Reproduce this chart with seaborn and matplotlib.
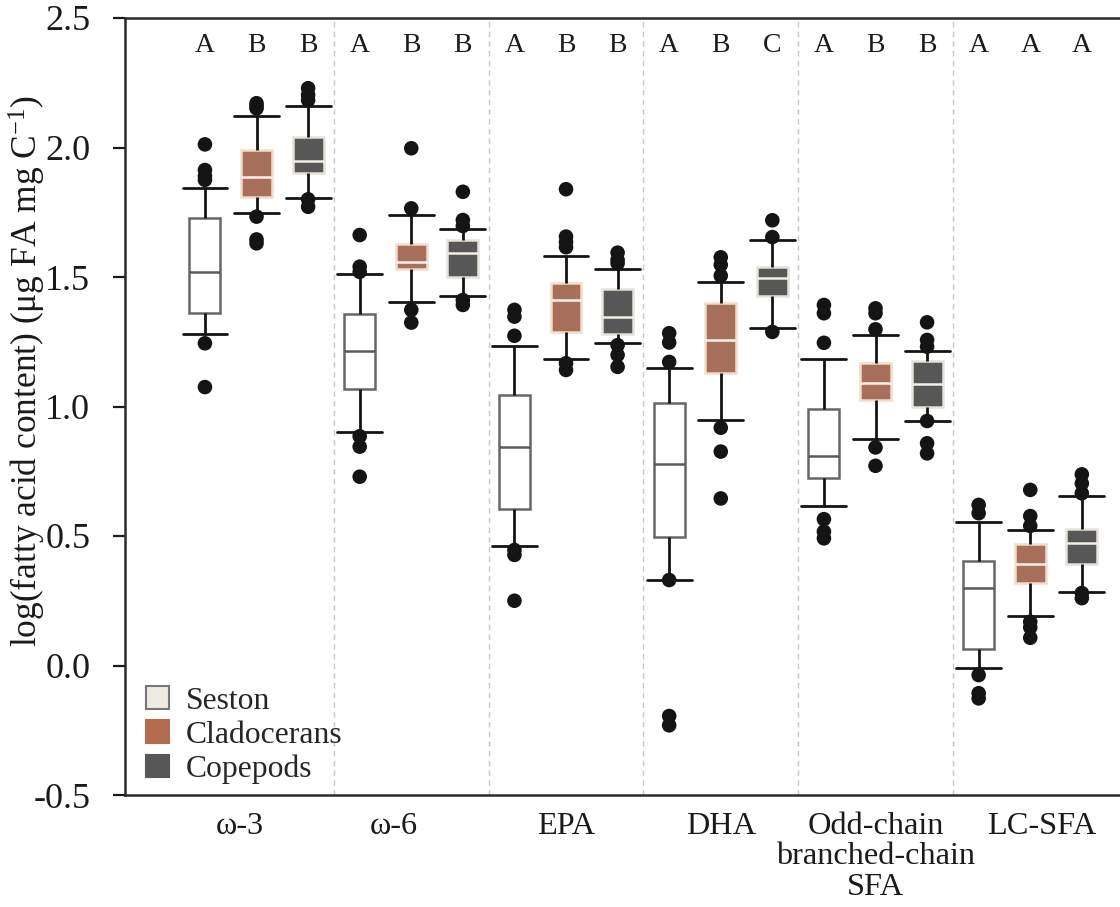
import numpy as np
import pandas as pd
import matplotlib
matplotlib.use("Agg")
import matplotlib.pyplot as plt
import matplotlib.transforms as mtransforms
from matplotlib.patches import Patch
import seaborn as sns

# ---------------- data ----------------
categories = ["ω-3", "ω-6", "EPA", "DHA", "Odd-chain\nbranched-chain\nSFA", "LC-SFA"]
taxa = ["Seston", "Cladocerans", "Copepods"]

# box statistics per category (whisker low, Q1, median, Q3, whisker high)
seston_whislo = [1.280, 0.900, 0.463, 0.329, 0.616, -0.011]
seston_q1     = [1.360, 1.069, 0.603, 0.495, 0.723, 0.063]
seston_med    = [1.520, 1.215, 0.845, 0.779, 0.809, 0.300]
seston_q3     = [1.727, 1.357, 1.044, 1.015, 0.989, 0.405]
seston_whishi = [1.842, 1.512, 1.235, 1.150, 1.182, 0.555]

clad_whislo = [1.748, 1.405, 1.183, 0.947, 0.873, 0.191]
clad_q1     = [1.810, 1.530, 1.287, 1.130, 1.025, 0.320]
clad_med    = [1.887, 1.559, 1.410, 1.255, 1.090, 0.391]
clad_q3     = [1.990, 1.627, 1.478, 1.401, 1.167, 0.469]
clad_whishi = [2.122, 1.739, 1.581, 1.479, 1.276, 0.523]

cope_whislo = [1.804, 1.428, 1.246, 1.302, 0.944, 0.283]
cope_q1     = [1.900, 1.499, 1.279, 1.426, 1.000, 0.391]
cope_med    = [1.949, 1.594, 1.345, 1.495, 1.086, 0.474]
cope_q3     = [2.039, 1.643, 1.455, 1.540, 1.177, 0.526]
cope_whishi = [2.160, 1.684, 1.532, 1.644, 1.216, 0.655]

# outliers per category
seston_fliers = [
    [2.012, 1.913, 1.890, 1.875, 1.244, 1.075],
    [1.662, 1.540, 1.520, 0.885, 0.845, 0.729],
    [1.373, 1.347, 1.273, 0.446, 0.427, 0.250],
    [1.283, 1.247, 1.172, 0.330, -0.195, -0.231],
    [1.392, 1.360, 1.246, 0.565, 0.517, 0.491],
    [0.620, 0.588, -0.037, -0.107, -0.127],
]
clad_fliers = [
    [2.171, 2.160, 2.151, 1.733, 1.645, 1.630],
    [1.997, 1.765, 1.373, 1.324],
    [1.839, 1.656, 1.635, 1.615, 1.167, 1.141],
    [1.576, 1.547, 1.505, 0.918, 0.826, 0.645],
    [1.379, 1.360, 1.298, 0.842, 0.771],
    [0.678, 0.577, 0.539, 0.169, 0.147, 0.107],
]
cope_fliers = [
    [2.229, 2.203, 2.183, 1.800, 1.771],
    [1.829, 1.720, 1.697, 1.411, 1.392],
    [1.594, 1.566, 1.553, 1.237, 1.199, 1.153],
    [1.719, 1.654, 1.288],
    [1.325, 1.257, 1.231, 0.944, 0.858, 0.819],
    [0.738, 0.703, 0.665, 0.280, 0.260],
]

# significance letters
seston_letters = ["A", "A", "A", "A", "A", "A"]
clad_letters   = ["B", "B", "B", "B", "B", "A"]
cope_letters   = ["B", "B", "B", "C", "B", "A"]

# ---------------- tables ----------------
stats = {
    "Seston": [seston_whislo, seston_q1, seston_med, seston_q3, seston_whishi],
    "Cladocerans": [clad_whislo, clad_q1, clad_med, clad_q3, clad_whishi],
    "Copepods": [cope_whislo, cope_q1, cope_med, cope_q3, cope_whishi],
}
fliers = {"Seston": seston_fliers, "Cladocerans": clad_fliers, "Copepods": cope_fliers}
letters = {"Seston": seston_letters, "Cladocerans": clad_letters, "Copepods": cope_letters}

rows = []
for t in taxa:
    for ci, cat in enumerate(categories):
        for arr in stats[t]:
            rows.append({"category": cat, "taxon": t, "value": arr[ci]})
box_df = pd.DataFrame(rows)

slot = 1.0 / len(taxa)
frows = []
for ti, t in enumerate(taxa):
    for ci, cat in enumerate(categories):
        for v in fliers[t][ci]:
            frows.append({"xpos": ci + (ti - 1) * slot, "value": v, "taxon": t})
flier_df = pd.DataFrame(frows)

# ---------------- style ----------------
sns.set_theme(style="white")
plt.rcParams["font.family"] = ["Liberation Serif", "DejaVu Serif"]
plt.rcParams["mathtext.fontset"] = "custom"
plt.rcParams["mathtext.rm"] = "Liberation Serif"
plt.rcParams["mathtext.it"] = "Liberation Serif:italic"
plt.rcParams["axes.unicode_minus"] = False

palette = {"Seston": "#FFFFFF", "Cladocerans": "#B56B4D", "Copepods": "#575757"}
edge = {"Seston": "#666666", "Cladocerans": "#F2DCCB", "Copepods": "#E6E2DA"}
median_col = {"Seston": "#5A5A5A", "Cladocerans": "#FBF3EA", "Copepods": "#F4F0E8"}
legend_fill = {"Seston": "#EEEBE2", "Cladocerans": "#B56B4D", "Copepods": "#575757"}
ink = "#141414"
label_shift_px = [-17, -17, 0, 0, 0, 12]   # horizontal nudge of category labels

fig = plt.figure(figsize=(11.2, 9.07), dpi=100)
ax = fig.add_axes([125 / 1120, 1 - 795 / 907, 1 - 125 / 1120, (795 - 18) / 907])

for i in range(len(categories) - 1):
    ax.axvline(i + 0.5, color="#C9C9C9", lw=1.0, ls=(0, (4, 3)), zorder=0)

for t in taxa:
    sub = box_df[box_df["taxon"] == t]
    sns.boxplot(
        data=sub, x="category", y="value", hue="taxon",
        order=categories, hue_order=taxa, palette=palette,
        whis=(0, 100), showfliers=False, width=1.0, gap=0.4, dodge=True,
        capwidths=0.29, legend=False, ax=ax,
        boxprops=dict(edgecolor=edge[t], linewidth=1.8),
        medianprops=dict(color=median_col[t], linewidth=1.8),
        whiskerprops=dict(color=ink, linewidth=2.0),
        capprops=dict(color=ink, linewidth=2.0),
    )

sns.scatterplot(
    data=flier_df, x="xpos", y="value", color=ink, s=110,
    edgecolor="none", linewidth=0, legend=False, ax=ax, zorder=5,
)

for ti, t in enumerate(taxa):
    for ci in range(len(categories)):
        ax.text(ci + (ti - 1) * slot, 2.395, letters[t][ci], ha="center",
                va="center", fontsize=20, color="#1a1a1a")

ax.set_xlim(-0.85, 5.58)
ax.set_ylim(-0.5, 2.5)
yt = [-0.5, 0.0, 0.5, 1.0, 1.5, 2.0, 2.5]
ax.set_yticks(yt)
ax.set_yticklabels([f"{v:.1f}" for v in yt], fontsize=26)
ax.set_xticks(range(len(categories)))
ax.set_xticklabels(categories, fontsize=23.3, linespacing=1.08)
ax.tick_params(axis="x", length=0, pad=12, colors="#1a1a1a")
ax.tick_params(axis="y", length=9, width=1.6, pad=16, labelsize=26,
               colors="#1a1a1a", direction="out", left=True)
for lab, dx in zip(ax.get_xticklabels(), label_shift_px):
    lab.set_transform(lab.get_transform() +
                      mtransforms.ScaledTranslation(dx / 100, 0, fig.dpi_scale_trans))
ax.set_xlabel("")
ax.set_ylabel("log(fatty acid content) (μg FA mg C$^{\\mathregular{-1}}$)",
              fontsize=25.5, color="#1a1a1a")
ax.yaxis.set_label_coords(-0.077, 0.545)

for s in ["left", "top", "bottom"]:
    ax.spines[s].set_visible(True)
    ax.spines[s].set_color("#2a2a2a")
    ax.spines[s].set_linewidth(1.8)
ax.spines["right"].set_visible(False)

handles = [Patch(facecolor=legend_fill[t],
                 edgecolor="#777777" if t == "Seston" else legend_fill[t],
                 linewidth=1.5) for t in taxa]
ax.legend(handles, taxa, loc="lower left",
          bbox_to_anchor=(146 / 1120, (907 - 784) / 907),
          bbox_transform=fig.transFigure, frameon=False, fontsize=22.8,
          handlelength=0.72, handleheight=0.72, handletextpad=0.55,
          labelspacing=0.15, borderpad=0, borderaxespad=0)

fig.savefig("out.png", dpi=100)
